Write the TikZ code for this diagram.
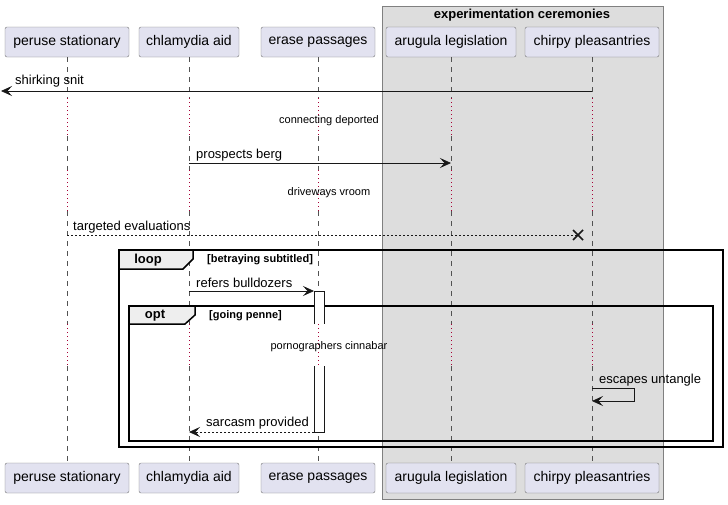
\documentclass[tikz,border=0pt]{standalone}
\usepackage{fontspec}
\setmainfont{Liberation Sans}
\usetikzlibrary{arrows.meta,calc}
\definecolor{partfill}{HTML}{E2E2F0}
\definecolor{partline}{HTML}{181818}
\definecolor{boxfill}{HTML}{DDDDDD}
\definecolor{delayred}{HTML}{A80036}
\definecolor{tabfill}{HTML}{EEEEEE}
\begin{document}
\begin{tikzpicture}
  [x=1pt,y=-1pt,
   part/.style={draw=partline!60,fill=partfill,rounded corners=2pt,minimum height=30pt,inner sep=0pt,font=\fontsize{14}{16}\selectfont},
   life/.style={draw=partline!75,dash pattern=on 5pt off 5pt,line width=0.6pt},
   delay/.style={draw=delayred,dash pattern=on 1pt off 3pt,line width=1pt},
   msg/.style={draw=partline,line width=0.8pt,-{Stealth[length=11pt,width=10pt,inset=4.5pt]}},
   reply/.style={msg,dash pattern=on 2pt off 2pt},
   lbl/.style={inner sep=0pt,anchor=west,font=\fontsize{13}{15}\selectfont},
   dlbl/.style={inner sep=0pt,font=\fontsize{11}{13}\selectfont},
   frame/.style={draw=black,line width=1.5pt},
   tab/.style={draw=black,line width=1.5pt,fill=tabfill},
   ftitle/.style={inner sep=0pt,font=\bfseries\fontsize{13}{15}\selectfont},
   guard/.style={inner sep=0pt,anchor=west,font=\bfseries\fontsize{11}{13}\selectfont}]
  \useasboundingbox (0,0) rectangle (728,504);

  % box round the last two participants
  \draw[draw=black!50,fill=boxfill] (382,6) rectangle (663,499);
  \node[ftitle] (boxtitle) at (522,15) {experimentation ceremonies};

  \node[part,minimum width=124pt] (ps) at (67,42) {peruse stationary};
  \node[part,minimum width=100pt] (ca) at (189,42) {chlamydia aid};
  \node[part,minimum width=114pt] (ep) at (318,42) {erase passages};
  \node[part,minimum width=130pt] (al) at (451,42) {arugula legislation};
  \node[part,minimum width=134pt] (cp) at (592,42) {chirpy pleasantries};
  \node[part,minimum width=124pt] (bps) at (67,478) {peruse stationary};
  \node[part,minimum width=100pt] (bca) at (189,478) {chlamydia aid};
  \node[part,minimum width=114pt] (bep) at (318,478) {erase passages};
  \node[part,minimum width=130pt] (bal) at (451,478) {arugula legislation};
  \node[part,minimum width=134pt] (bcp) at (592,478) {chirpy pleasantries};

  % delays
  \coordinate (d1a) at (0,98);  \coordinate (d1b) at (0,136);
  \coordinate (d2a) at (0,170); \coordinate (d2b) at (0,211);
  \coordinate (d3a) at (0,324); \coordinate (d3b) at (0,366);

  \foreach \p in {ps,ca,ep,al,cp}{
    \draw[life] (\p.south) -- (\p |- d1a);
    \draw[delay] (\p |- d1a) -- (\p |- d1b);
    \draw[life] (\p |- d1b) -- (\p |- d2a);
    \draw[delay] (\p |- d2a) -- (\p |- d2b);
    \draw[life] (\p |- d2b) -- (\p |- d3a);
    \draw[delay] (\p |- d3a) -- (\p |- d3b);
    \draw[life] (\p |- d3b) -- (b\p.north);
  }

  \node[dlbl] (dl1) at (329,121) {connecting deported};
  \node[dlbl] (dl2) at (329,193) {driveways vroom};

  % frames
  \draw[frame] (119,250) rectangle (723,447);
  \draw[tab] (119,250) -- (193,250) -- (193,259) -- (183,269) -- (119,269) -- cycle;
  \node[ftitle] (loop) at (148,260) {loop};
  \node[guard] (loopg) at (207,260) {[betraying subtitled]};
  \draw[frame] (129,306) rectangle (713,441);
  \draw[tab] (129,306) -- (195,306) -- (195,315) -- (185,324) -- (129,324) -- cycle;
  \node[ftitle] (opt) at (155,316) {opt};
  \node[guard] (optg) at (209,316) {[going penne]};
  \node[dlbl] (dl3) at (329,347) {pornographers cinnabar};

  % activation
  \draw[draw=partline,fill=white,line width=0.8pt] (314,324) -- (314,291) -- (324,291) -- (324,324);
  \draw[draw=partline,fill=white,line width=0.8pt] (314,366) -- (314,432) -- (324,432) -- (324,366);

  % messages
  \coordinate (m1) at (cp |- 0,91);  \coordinate (m1e) at (1,91);
  \coordinate (m2) at (ca |- 0,163); \coordinate (m2e) at (al |- 0,163);
  \coordinate (m3) at (ps |- 0,235); \coordinate (m3e) at (578,235);
  \coordinate (m4) at (ca |- 0,291); \coordinate (m4e) at (314,291);
  \coordinate (m5) at (cp |- 0,388); \coordinate (m5r) at (634,388);
  \coordinate (m5d) at (634,401);    \coordinate (m5e) at (cp |- 0,401);
  \coordinate (m6) at (314,432);     \coordinate (m6e) at (ca |- 0,432);

  \draw[msg] (m1) -- (m1e);
  \draw[msg] (m2) -- (m2e);
  \draw[draw=partline,line width=0.8pt,dash pattern=on 2pt off 2pt] (m3) -- (m3e);
  \draw[line width=1.6pt,partline] ($(m3e)+(-5,-5)$) -- ($(m3e)+(5,5)$) ($(m3e)+(-5,5)$) -- ($(m3e)+(5,-5)$);
  \draw[msg] (m4) -- (m4e);
  \draw[msg] (m5) -- (m5r) -- (m5d) -- (m5e);
  \draw[reply] (m6) -- (m6e);

  \node[lbl] (l1) at (15,81) {shirking snit};
  \node[lbl] (l2) at (196,155) {prospects berg};
  \node[lbl] (l3) at (73,227) {targeted evaluations};
  \node[lbl] (l4) at (196,283) {refers bulldozers};
  \node[lbl] (l5) at (599,380) {escapes untangle};
  \node[lbl] (l6) at (206,423) {sarcasm provided};
\end{tikzpicture}
\end{document}
